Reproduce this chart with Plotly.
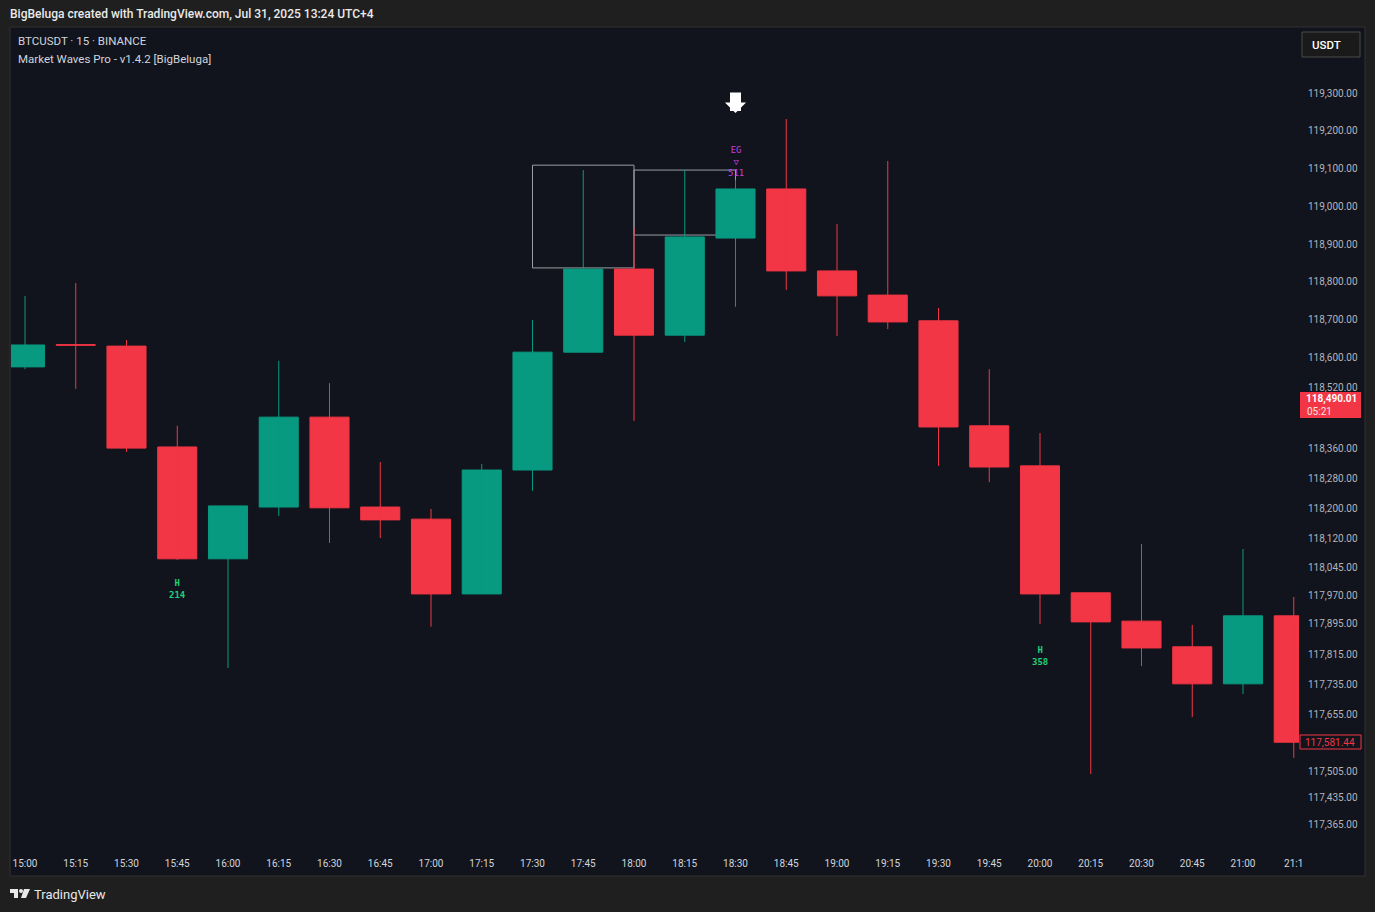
import plotly.graph_objects as go

# ---------------- data ----------------
times = ["15:00", "15:15", "15:30", "15:45", "16:00", "16:15", "16:30", "16:45",
         "17:00", "17:15", "17:30", "17:45", "18:00", "18:15", "18:30", "18:45",
         "19:00", "19:15", "19:30", "19:45", "20:00", "20:15", "20:30", "20:45",
         "21:00", "21:1"]
opens = [118575, 118634, 118630, 118363, 118067, 118204, 118442, 118204,
         118172, 117974, 118302, 118614, 118834, 118659, 118916, 119046,
         118829, 118765, 118697, 118419, 118313, 117977, 117902, 117834,
         117736, 117916]
highs = [118763, 118797, 118646, 118419, 118207, 118591, 118532, 118323,
         118199, 118318, 118699, 119096, 118943, 119096, 119070, 119231,
         118953, 119120, 118731, 118569, 118400, 117977, 118106, 117892,
         118093, 117966]
lows = [118569, 118517, 118350, 118064, 117778, 118180, 118109, 118122,
        117887, 117974, 118247, 118614, 118432, 118641, 118734, 118779,
        118657, 118675, 118313, 118270, 117894, 117497, 117783, 117648,
        117709, 117540]
closes = [118633, 118632, 118360, 118067, 118207, 118442, 118202, 118170,
          117974, 118302, 118614, 118834, 118659, 118919, 119046, 118829,
          118763, 118694, 118416, 118310, 117974, 117900, 117831, 117736,
          117916, 117581.44]

price_ticks = [119300, 119200, 119100, 119000, 118900, 118800, 118700, 118600,
               118520, 118360, 118280, 118200, 118120, 118045, 117970,
               117895, 117815, 117735, 117655, 117505, 117435, 117365]

# zone boxes (start index, end index, top price, bottom price)
box_start = [10, 12]
box_end = [12, 14]
box_top = [119109, 119096]
box_bottom = [118837, 118924]

# signal labels
eg_index, eg_price, eg_text = 14, 119120, "EG<br>▽<br>511"
arrow_index, arrow_price = 14, 119247
h_index = [3, 20]
h_price = [117987, 117810]
h_text = ["H<br>214", "H<br>358"]

last_price = 117581.44
live_price = 118490.01
live_timer = "05:21"

# ---------------- styling ----------------
UP = "#089981"
DOWN = "#F23645"
PANE = "#11141c"
OUTER = "#1f1f1f"
FONT = "Roboto"

PL, PR, PT, PB = 11, 1299, 28, 850
def xp(px):
    return (px - PL) / (PR - PL)
def yp(py):
    return (PB - py) / (PB - PT)

idx = list(range(len(times)))
up_i = [i for i in idx if closes[i] > opens[i]]
dn_i = [i for i in idx if closes[i] <= opens[i]]

fig = go.Figure()

def wick_trace(ids, color):
    xs, ys = [], []
    for i in ids:
        xs += [i, i, None]
        ys += [lows[i], highs[i], None]
    return go.Scatter(x=xs, y=ys, mode="lines", line=dict(color=color, width=1),
                      hoverinfo="skip", showlegend=False)

fig.add_trace(wick_trace(up_i, UP))
fig.add_trace(wick_trace(dn_i, DOWN))

def body_trace(ids, color):
    return go.Bar(x=ids,
                  base=[min(opens[i], closes[i]) for i in ids],
                  y=[max(abs(closes[i] - opens[i]), 1) for i in ids],
                  width=0.77, marker=dict(color=color, line=dict(color=color, width=1)),
                  showlegend=False, hoverinfo="skip")

fig.add_trace(body_trace(up_i, UP))
fig.add_trace(body_trace(dn_i, DOWN))

shapes = []
# pane background + border
shapes.append(dict(type="rect", xref="paper", yref="paper",
                   x0=xp(10), x1=xp(1365), y0=yp(876), y1=yp(27),
                   fillcolor=PANE, line=dict(color="#303030", width=1), layer="below"))
# zone boxes
for s, e, t, b in zip(box_start, box_end, box_top, box_bottom):
    shapes.append(dict(type="rect", xref="x", yref="y", x0=s, x1=e, y0=b, y1=t,
                       line=dict(color="#9a9da5", width=1), fillcolor="rgba(0,0,0,0)",
                       layer="below"))
# USDT button
shapes.append(dict(type="rect", xref="paper", yref="paper",
                   x0=xp(1302), x1=xp(1360), y0=yp(57), y1=yp(32),
                   fillcolor="#1a1a1a", line=dict(color="#4a4a4a", width=1), layer="above"))
# live price label
shapes.append(dict(type="rect", xref="paper", yref="paper",
                   x0=xp(1300), x1=xp(1361), y0=yp(418), y1=yp(392),
                   fillcolor=DOWN, line=dict(width=0), layer="above"))
# last price outline label
shapes.append(dict(type="rect", xref="paper", yref="paper",
                   x0=xp(1300), x1=xp(1361), y0=yp(749), y1=yp(735),
                   fillcolor=PANE, line=dict(color=DOWN, width=1), layer="above"))
# TradingView logo (simple drawing)
shapes.append(dict(type="rect", xref="paper", yref="paper",
                   x0=xp(10), x1=xp(18), y0=yp(893), y1=yp(889),
                   fillcolor="#e8e8e8", line=dict(width=0), layer="above"))
shapes.append(dict(type="rect", xref="paper", yref="paper",
                   x0=xp(14), x1=xp(18), y0=yp(898), y1=yp(889),
                   fillcolor="#e8e8e8", line=dict(width=0), layer="above"))
shapes.append(dict(type="circle", xref="paper", yref="paper",
                   x0=xp(19), x1=xp(23), y0=yp(893), y1=yp(889),
                   fillcolor="#e8e8e8", line=dict(width=0), layer="above"))
shapes.append(dict(type="path", xref="paper", yref="paper",
                   path=f"M {xp(24)},{yp(889)} L {xp(30)},{yp(889)} L {xp(26)},{yp(898)} L {xp(21)},{yp(898)} Z",
                   fillcolor="#e8e8e8", line=dict(width=0), layer="above"))

annotations = []
def ann(text, px, py, size=11, color="#d1d4dc", xanchor="left", weight="normal"):
    annotations.append(dict(text=text, xref="paper", yref="paper", x=xp(px), y=yp(py),
                            xanchor=xanchor, yanchor="middle", showarrow=False,
                            font=dict(family=FONT, size=size, color=color, weight=weight)))

ann("BigBeluga created with TradingView.com, Jul 31, 2025 13:24 UTC+4", 8, 14,
    size=12, color="#eaeaea", weight=500)
ann("BTCUSDT · 15 · BINANCE", 16, 41, size=11.5)
ann("Market Waves Pro - v1.4.2 [BigBeluga]", 16, 59, size=11.5)
ann("USDT", 1326, 44.5, size=11.5, color="#ffffff", xanchor="center", weight=500)
ann(f"{live_price:,.2f}", 1304, 399, size=10, color="#ffffff", weight="bold")
ann(live_timer, 1305, 411, size=10, color="#ffe0e3")
ann(f"{last_price:,.2f}", 1330, 742, size=10, color=DOWN, xanchor="center")
ann("TradingView", 32, 894, size=13, color="#e8e8e8")

# EG label
annotations.append(dict(text=eg_text, x=eg_index, y=eg_price, xref="x", yref="y",
                        showarrow=False, yanchor="middle",
                        font=dict(family="DejaVu Sans Mono", size=9, color="#c63ee0")))
# arrow
annotations.append(dict(text="", x=arrow_index, y=arrow_price, xref="x", yref="y",
                        showarrow=True, ax=0, ay=-22, arrowhead=1, arrowsize=0.32,
                        arrowwidth=11, arrowcolor="#ffffff"))
for i, p, t in zip(h_index, h_price, h_text):
    annotations.append(dict(text=t, x=i, y=p, xref="x", yref="y", showarrow=False,
                            yanchor="middle",
                            font=dict(family="DejaVu Sans Mono", size=9, color="#1fd07a",
                                      weight="bold")))

y_top = 119300 + (93 - PT) * 1935 / 731
y_bot = 119300 - (PB - 93) * 1935 / 731
x_left = -(25 - PL) / 50.75
x_right = (PR - 25) / 50.75

fig.update_layout(
    width=1375, height=912,
    margin=dict(l=PL, r=1375 - PR, t=PT, b=912 - PB),
    paper_bgcolor=OUTER, plot_bgcolor=PANE,
    barmode="overlay", showlegend=False,
    shapes=shapes, annotations=annotations,
    xaxis=dict(range=[x_left, x_right], tickvals=idx, ticktext=times,
               showgrid=False, zeroline=False, showline=False, ticks="",
               tickfont=dict(family=FONT, size=10, color="#d1d4dc"),
               ticklabelstandoff=6, fixedrange=True),
    yaxis=dict(range=[y_bot, y_top], side="right", tickvals=price_ticks,
               ticktext=[f"{v:,.2f}" for v in price_ticks],
               showgrid=False, zeroline=False, showline=False, ticks="",
               tickfont=dict(family=FONT, size=10, color="#b2b5be"),
               ticklabelstandoff=8, fixedrange=True),
)

fig.write_html("out.html", config={"displayModeBar": False},
               post_script="document.body.style.margin='0px';document.body.style.background='#1f1f1f';")
